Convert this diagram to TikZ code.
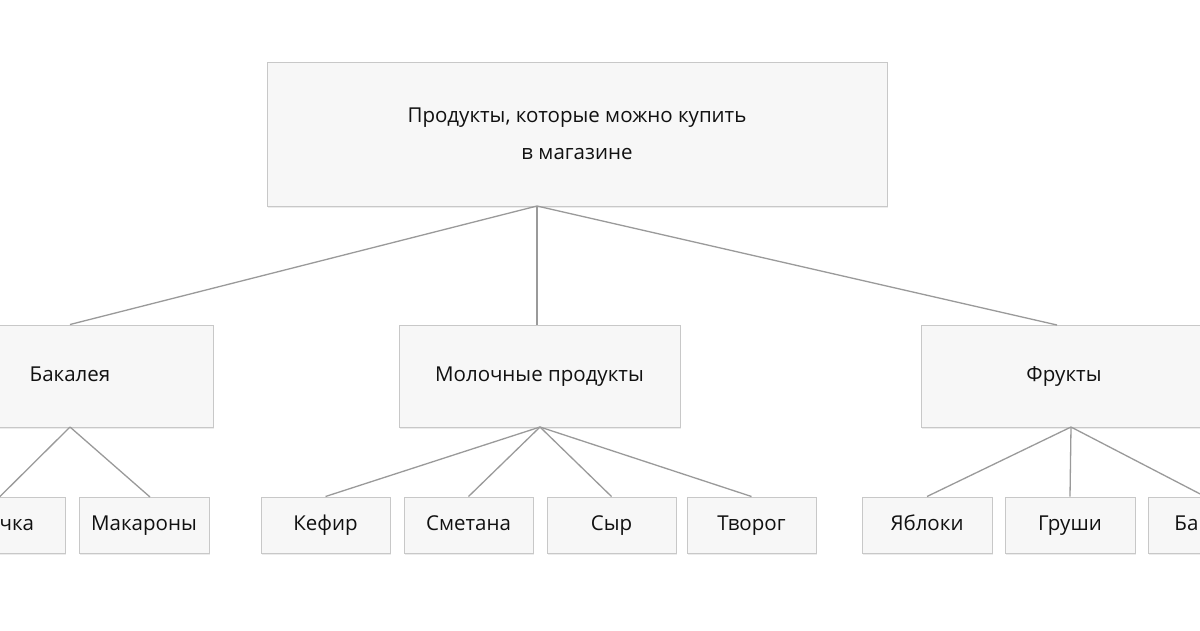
\documentclass[tikz,border=0pt]{standalone}
\usepackage{fontspec}
\setmainfont{Open Sans}
\usetikzlibrary{shadows}
\definecolor{boxfill}{HTML}{F7F7F7}
\definecolor{boxline}{HTML}{C8C8C8}
\definecolor{lnk}{HTML}{9A9A9A}
\definecolor{txt}{HTML}{111111}
\tikzset{
 boxbase/.style={draw=boxline, fill=boxfill, line width=1pt, drop shadow={opacity=0.15,shadow xshift=1pt,shadow yshift=-1.5pt}, inner sep=0},
 txtstyle/.style={text=txt, font=\fontsize{20.5}{37}\selectfont, align=center},
 box/.style={boxbase, txtstyle, text height=14pt, text depth=4pt},
 link/.style={draw=lnk, line width=1.3pt}
}
\begin{document}
\begin{tikzpicture}[x=1pt,y=-1pt]
\useasboundingbox (0,0) rectangle (1200,630);
\clip (0,0) rectangle (1200,630);
\fill[white] (0,0) rectangle (1200,630);
% nodes
\node[boxbase, minimum width=620pt, minimum height=144pt] (root) at (577,134) {};
\node[txtstyle, inner sep=0] (roottext) at (root.center) {Продукты, которые можно купить\\в магазине};
\node[box, minimum width=286pt, minimum height=102pt] (bak) at (70,376) {Бакалея};
\node[box, minimum width=281pt, minimum height=102pt] (mol) at (539.5,376) {Молочные продукты};
\node[box, minimum width=286pt, minimum height=102pt] (fru) at (1064,376) {Фрукты};
\node[box, minimum width=130pt, minimum height=56pt] (gre) at (0,525) {Гречка};
\node[box, minimum width=130pt, minimum height=56pt] (mak) at (144,525) {Макароны};
\node[box, minimum width=129pt, minimum height=56pt] (kef) at (325.5,525) {Кефир};
\node[box, minimum width=129pt, minimum height=56pt] (sme) at (468.5,525) {Сметана};
\node[box, minimum width=129pt, minimum height=56pt] (syr) at (611.5,525) {Сыр};
\node[box, minimum width=129pt, minimum height=56pt] (tvo) at (751.5,525) {Творог};
\node[box, minimum width=130pt, minimum height=56pt] (yab) at (927,525) {Яблоки};
\node[box, minimum width=130pt, minimum height=56pt] (gru) at (1070,525) {Груши};
\node[box, minimum width=130pt, minimum height=56pt] (ban) at (1213,525) {Бананы};
% links
\coordinate (rb) at (537,206);
\draw[link] (rb) -- (bak.north);
\draw[link] (rb) -- (537,325);
\draw[link] (rb) -- (1057,325);
\coordinate (bb) at (70,427);
\draw[link] (bb) -- (gre.north);
\draw[link] (bb) -- (150,497);
\coordinate (mb) at (540,427);
\draw[link] (mb) -- (kef.north);
\draw[link] (mb) -- (sme.north);
\draw[link] (mb) -- (syr.north);
\draw[link] (mb) -- (tvo.north);
\coordinate (fb) at (1071,427);
\draw[link] (fb) -- (yab.north);
\draw[link] (fb) -- (gru.north);
\draw[link] (fb) -- (1206,497);
\end{tikzpicture}
\end{document}
